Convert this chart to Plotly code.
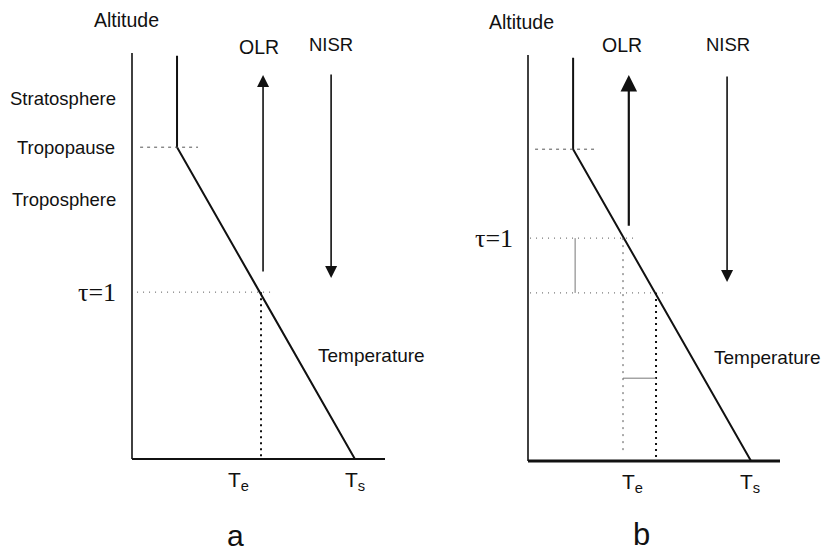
import plotly.graph_objects as go

W, H = 821, 549

# ---------------- schematic data (arbitrary units: temperature 0-10, altitude 0-10) ----------------
axis_T_max = 10.0
axis_z_max = 10.0

# panel a
profile_T_a = [1.78, 1.78, 8.81]
profile_z_a = [9.93, 7.68, 0.0]
tropopause_z_a = 7.68
tropopause_dash_a = [0.32, 2.61]
tau1_z_a = 4.11
tau1_dot_a = [0.20, 5.53]
Te_a = 5.10
Ts_a = 8.81
olr_a = {"x": 5.18, "z": [4.58, 9.46]}
nisr_a = {"x": 7.87, "z": [9.51, 4.46]}

# panel b
profile_T_b = [1.79, 1.79, 8.85]
profile_z_b = [9.93, 7.68, 0.0]
tropopause_z_b = 7.68
tropopause_dash_b = [0.28, 2.62]
tau1_new_z_b = 5.49
tau1_old_z_b = 4.14
tau1_new_dot_b = [0.08, 4.21]
tau1_old_dot_b = [0.08, 5.52]
Te_b = 3.77
T_old_b = 5.08
Te_dot_bottom_b = 0.22
shift_bar_T_b = 1.87
gap_bar_z_b = 2.04
Ts_b = 8.85
olr_b = {"x": 4.00, "z": [5.76, 9.51]}
nisr_b = {"x": 7.90, "z": [9.51, 4.41]}

# ---------------- layout helpers (pixel geometry of each panel) ----------------
panels = {
    "a": dict(x0=132, sx=25.3, y0=459, sy=40.6, dom=[0.0, 0.5]),
    "b": dict(x0=528, sx=25.2, y0=461, sy=40.6, dom=[0.5, 1.0]),
}


def xr(p):
    d = panels[p]
    return [(d["dom"][0] * W - d["x0"]) / d["sx"], (d["dom"][1] * W - d["x0"]) / d["sx"]]


def yr(p):
    d = panels[p]
    return [(d["y0"] - H) / d["sy"], d["y0"] / d["sy"]]


fig = go.Figure()
BLACK = "#111111"
GREY = "#555555"


def line(xs, ys, ax, width=2, color=BLACK, dash="solid"):
    fig.add_trace(go.Scatter(x=xs, y=ys, mode="lines", xaxis=ax[0], yaxis=ax[1],
                             line=dict(color=color, width=width, dash=dash),
                             hoverinfo="skip", showlegend=False, cliponaxis=False))


A = ("x", "y")
B = ("x2", "y2")

# ---- panel a ----
line([0, 0], [0, axis_z_max], A, width=1.6)
line([0, axis_T_max], [0, 0], A, width=2.2)
line(profile_T_a, profile_z_a, A, width=2)
line(tropopause_dash_a, [tropopause_z_a] * 2, A, width=1, color=GREY, dash="3px,4px")
line(tau1_dot_a, [tau1_z_a] * 2, A, width=1, color=GREY, dash="1px,5px")
line([Te_a, Te_a], [tau1_z_a, 0], A, width=2, color=BLACK, dash="2px,4px")

# ---- panel b ----
line([0, 0], [0, axis_z_max], B, width=1.6)
line([0, axis_T_max], [0, 0], B, width=3)
line(profile_T_b, profile_z_b, B, width=2)
line(tropopause_dash_b, [tropopause_z_b] * 2, B, width=1, color=GREY, dash="3px,4px")
line(tau1_new_dot_b, [tau1_new_z_b] * 2, B, width=1, color=GREY, dash="1px,5px")
line(tau1_old_dot_b, [tau1_old_z_b] * 2, B, width=1, color=GREY, dash="1px,5px")
line([shift_bar_T_b] * 2, [tau1_old_z_b, tau1_new_z_b], B, width=1, color="#777777")
line([Te_b, Te_b], [tau1_new_z_b, Te_dot_bottom_b], B, width=1, color=GREY, dash="2px,5px")
line([T_old_b, T_old_b], [tau1_old_z_b, 0], B, width=2, color=BLACK, dash="2px,4px")
line([Te_b, T_old_b], [gap_bar_z_b] * 2, B, width=1, color="#777777")

annotations = []


def arrow(xv, z_from, z_to, ax, width):
    annotations.append(dict(x=xv, y=z_to, ax=xv, ay=z_from, xref=ax[0], yref=ax[1],
                            axref=ax[0], ayref=ax[1], text="", showarrow=True,
                            arrowhead=2, arrowsize=1.5, arrowwidth=width,
                            arrowcolor=BLACK, standoff=0, startstandoff=0))


arrow(olr_a["x"], olr_a["z"][0], olr_a["z"][1], A, 1.6)
arrow(nisr_a["x"], nisr_a["z"][0], nisr_a["z"][1], A, 1.6)
arrow(olr_b["x"], olr_b["z"][0], olr_b["z"][1], B, 2.2)
arrow(nisr_b["x"], nisr_b["z"][0], nisr_b["z"][1], B, 1.6)

SANS = "Liberation Sans"


def text(t, xv, yv, ax, size=18, xanchor="center", family=SANS):
    annotations.append(dict(x=xv, y=yv, xref=ax[0], yref=ax[1], text=t, showarrow=False,
                            xanchor=xanchor, yanchor="middle",
                            font=dict(family=family, size=size, color=BLACK)))


# labels panel a
text("Altitude", -0.2, 10.81, A, 19.5)
text("OLR", 5.02, 10.15, A, 19.5)
text("NISR", 7.87, 10.2, A, 18.5)
text("Stratosphere", -0.55, 8.89, A, 18.5, "right")
text("Tropopause", -0.6, tropopause_z_a, A, 18.5, "right")
text("Troposphere", -0.55, 6.38, A, 18.5, "right")
text("τ=1", -0.55, tau1_z_a, A, 26, "right", "Liberation Serif")
text("Temperature", 7.27, 2.56, A, 19, "left")
text("T<sub>e</sub>", 4.19, -0.55, A, 21)
text("T<sub>s</sub>", Ts_a, -0.55, A, 21)
text("a", 4.11, -1.88, A, 30)

# labels panel b
text("Altitude", -0.24, 10.81, B, 19.5)
text("OLR", 3.73, 10.25, B, 19.5)
text("NISR", 7.94, 10.25, B, 18.5)
text("τ=1", -0.52, tau1_new_z_b, B, 26, "right", "Liberation Serif")
text("Temperature", 7.30, 2.56, B, 19, "left")
text("T<sub>e</sub>", 4.13, -0.55, B, 21)
text("T<sub>s</sub>", 8.81, -0.55, B, 21)
text("b", 4.52, -1.80, B, 31)

ax_common = dict(visible=False, showgrid=False, zeroline=False, fixedrange=True)
fig.update_layout(
    width=W, height=H,
    margin=dict(l=0, r=0, t=0, b=0),
    paper_bgcolor="white", plot_bgcolor="white",
    showlegend=False,
    xaxis=dict(domain=panels["a"]["dom"], range=xr("a"), **ax_common),
    yaxis=dict(domain=[0, 1], range=yr("a"), **ax_common),
    xaxis2=dict(domain=panels["b"]["dom"], range=xr("b"), anchor="y2", **ax_common),
    yaxis2=dict(domain=[0, 1], range=yr("b"), anchor="x2", **ax_common),
    annotations=annotations,
)

fig.write_html("out.html", config={"displayModeBar": False},
               post_script="document.body.style.margin='0';document.body.style.overflow='hidden';")
